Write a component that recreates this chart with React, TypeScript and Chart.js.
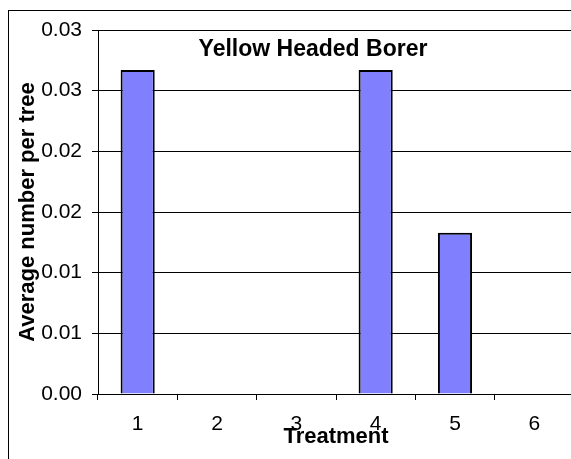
import React, { useEffect, useRef } from 'react';
import { Chart, registerables } from 'chart.js';

Chart.register(...registerables);

// Average number of yellow headed borers per tree, by treatment
const treatments = ['1', '2', '3', '4', '5', '6'];
const avgPerTree = [0.0267, 0, 0, 0.0267, 0.0133, 0];
const yTickLabels = ['0.00', '0.01', '0.01', '0.02', '0.02', '0.03', '0.03'];

const chartTitle = 'Yellow Headed Borer';
const xTitle = 'Treatment';
const yTitle = 'Average number per tree';

const FONT = '"Liberation Sans", Arial, Helvetica, sans-serif';

// Title sits inside the plot area, so it is painted after the chart
const innerTitle = {
  id: 'innerTitle',
  afterDraw(chart: any) {
    const { ctx, chartArea } = chart;
    ctx.save();
    ctx.font = `bold 23px ${FONT}`;
    ctx.fillStyle = '#000';
    ctx.textAlign = 'center';
    ctx.textBaseline = 'middle';
    ctx.fillText(chartTitle, chartArea.left + 215, chartArea.top + 20);
    ctx.restore();
  },
};

export default function App() {
  const canvasRef = useRef<HTMLCanvasElement | null>(null);

  useEffect(() => {
    if (!canvasRef.current) return;
    const chart = new Chart(canvasRef.current, {
      type: 'bar',
      data: {
        labels: treatments,
        datasets: [
          {
            data: avgPerTree,
            backgroundColor: '#8080FF',
            borderColor: '#000',
            borderWidth: 2,
            barPercentage: 0.43,
            categoryPercentage: 1,
          },
        ],
      },
      options: {
        responsive: false,
        animation: false,
        devicePixelRatio: 1,
        layout: { padding: { top: 30, left: 0, right: 26, bottom: 9 } },
        plugins: {
          legend: { display: false },
          tooltip: { enabled: false },
          title: { display: false },
        },
        scales: {
          x: {
            ticks: {
              color: '#000',
              font: { family: FONT, size: 21 },
              padding: 12,
              maxRotation: 0,
            },
            grid: {
              offset: true,
              drawOnChartArea: false,
              color: '#000',
              lineWidth: 1,
              tickLength: 6,
            },
            border: { color: '#000', width: 1 },
            title: {
              display: true,
              text: xTitle,
              color: '#000',
              font: { family: FONT, size: 22, weight: 'bold' },
              padding: 0,
            },
            afterFit: (scale: any) => {
              scale.height = 56;
            },
          },
          y: {
            min: 0,
            max: 0.03,
            ticks: {
              stepSize: 0.005,
              color: '#000',
              font: { family: FONT, size: 21 },
              padding: 10,
              callback: (_v: any, i: number) => yTickLabels[i],
            },
            grid: {
              color: '#000',
              lineWidth: 1,
              tickLength: 6,
            },
            border: { color: '#000', width: 1 },
            title: {
              display: true,
              text: yTitle,
              color: '#000',
              font: { family: FONT, size: 22, weight: 'bold' },
              padding: { top: 15, bottom: 0 },
            },
            afterFit: (scale: any) => {
              scale.width = 98;
            },
          },
        },
      },
      plugins: [innerTitle],
    });
    return () => chart.destroy();
  }, []);

  return (
    <div
      style={{
        position: 'fixed',
        left: 0,
        top: 0,
        width: 571,
        height: 459,
        overflow: 'hidden',
        background: '#fff',
      }}
    >
      <div
        style={{
          position: 'absolute',
          left: 8,
          top: 10,
          width: 700,
          height: 600,
          borderLeft: '1px solid #000',
          borderTop: '1px solid #000',
        }}
      />
      <canvas
        ref={canvasRef}
        width={600}
        height={459}
        style={{ position: 'absolute', left: 0, top: 0 }}
      />
    </div>
  );
}
